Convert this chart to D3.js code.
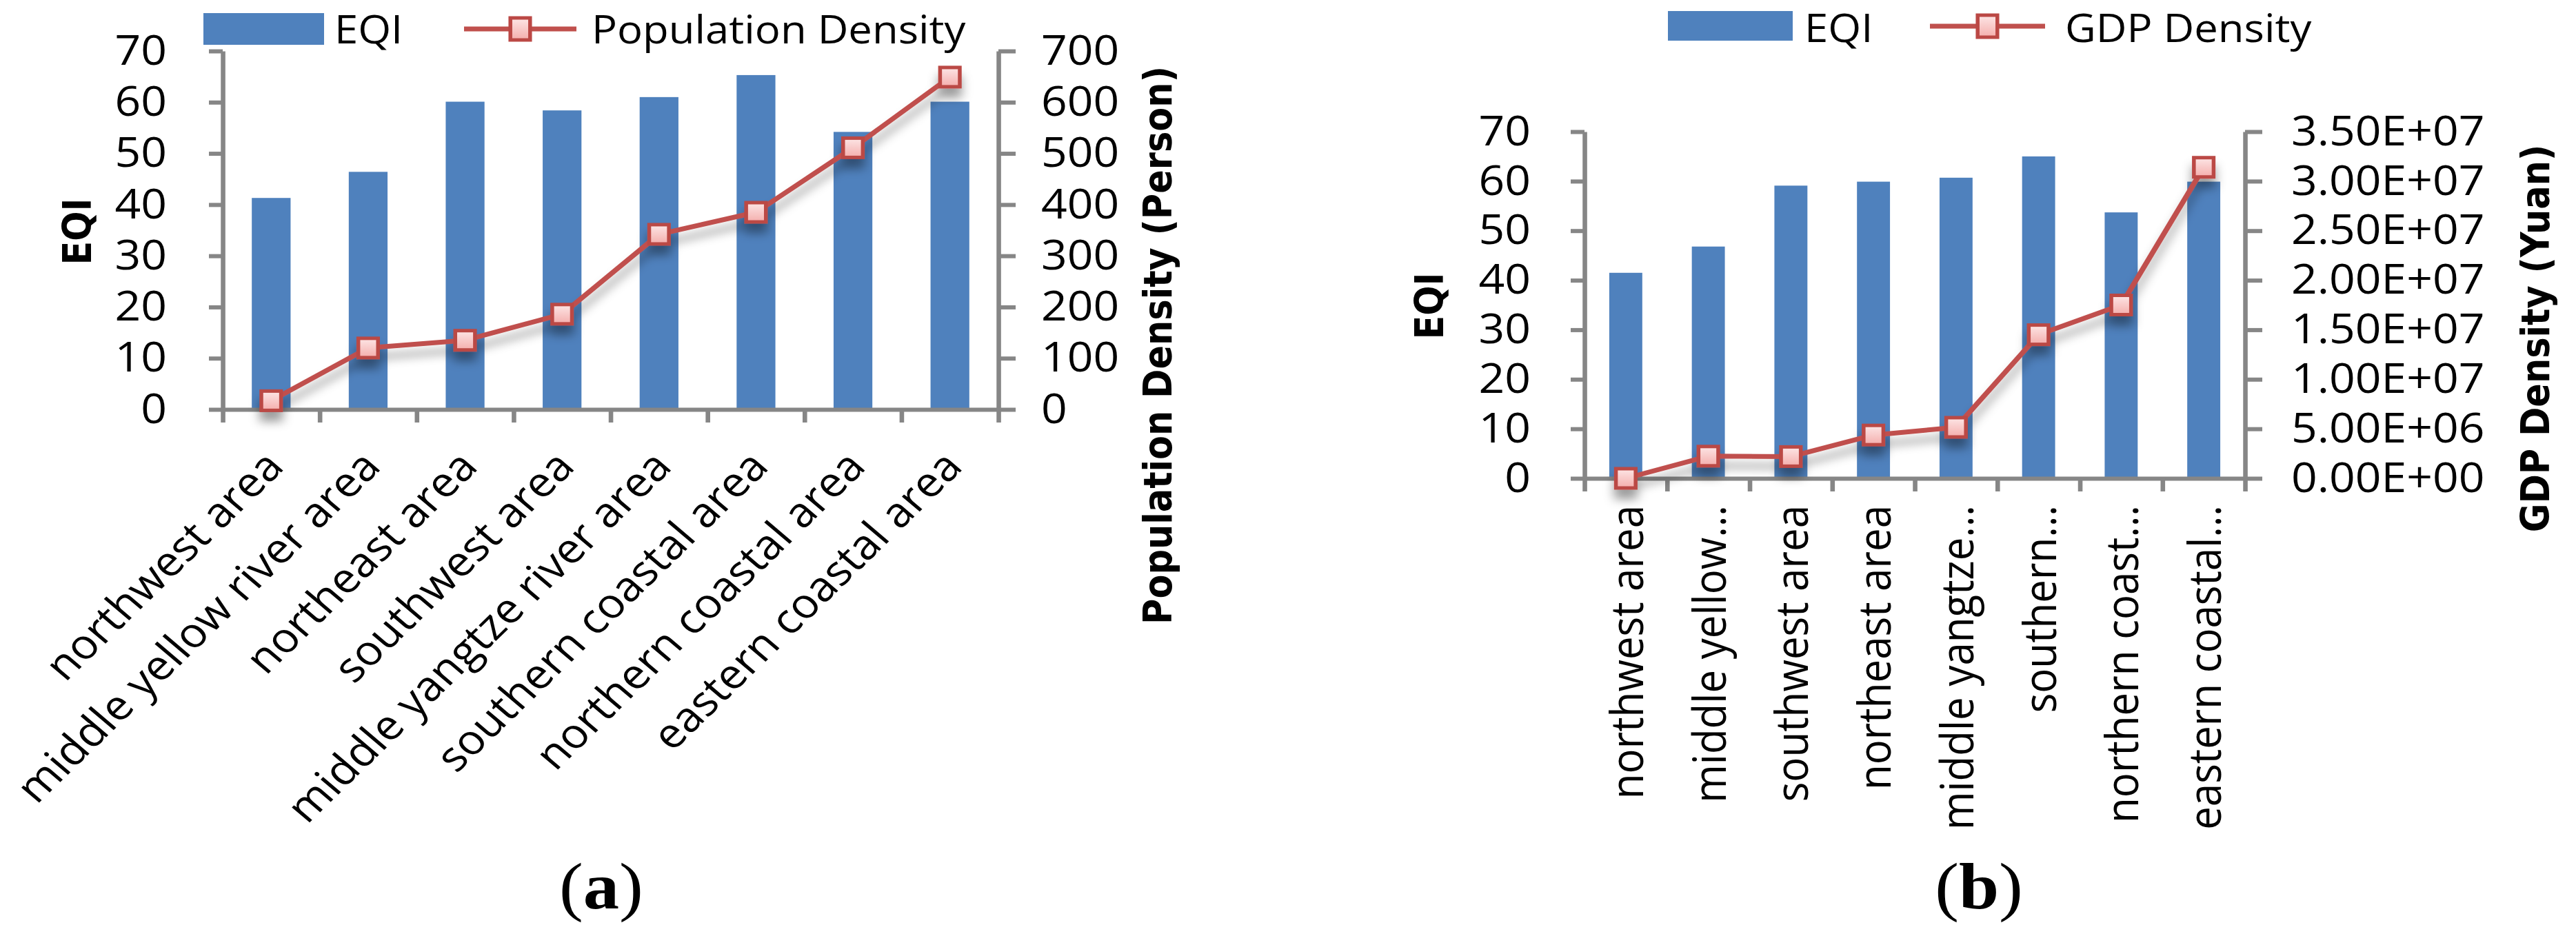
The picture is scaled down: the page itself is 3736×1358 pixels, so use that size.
<!DOCTYPE html>
<html><head><meta charset="utf-8">
<script src="https://cdn.jsdelivr.net/npm/d3@7"></script>
<style>
html,body{margin:0;padding:0;background:#fff;}
svg{display:block;background:#fff;}
</style></head>
<body>
<svg id="chart" width="3736" height="1358"></svg>
<script>
// ---------- data ----------
const categoriesA = ["northwest area","middle yellow river area","northeast area","southwest area",
  "middle yangtze river area","southern coastal area","northern coastal area","eastern coastal area"];
const eqiA = [41.3, 46.4, 60.1, 58.4, 61.0, 65.3, 54.2, 60.1];
const popDensity = [17, 120, 135, 186, 342, 385, 511, 649];

const categoriesB = ["northwest area","middle yellow…","southwest area","northeast area",
  "middle yangtze…","southern…","northern coast…","eastern coastal…"];
const eqiB = [41.5, 46.8, 59.1, 59.9, 60.7, 65.0, 53.7, 59.9];
const gdpDensity = [0, 2.24e6, 2.2e6, 4.37e6, 5.15e6, 1.45e7, 1.75e7, 3.14e7];

const eqiTicks = [0, 10, 20, 30, 40, 50, 60, 70];
const popTicks = [0, 100, 200, 300, 400, 500, 600, 700];
const gdpTicks = [0, 5e6, 1e7, 1.5e7, 2e7, 2.5e7, 3e7, 3.5e7];

// ---------- setup ----------
const S = 1.1; // horizontal stretch of the whole figure
const FONT = "'Open Sans','Liberation Sans',sans-serif";
const TFONT = "'DejaVu Sans','Verdana',sans-serif";
const BAR = "#4f81bd", LINE = "#c0504d", MK = "#bb4845", AX = "#868686";

const svg = d3.select("#chart");
const defs = svg.append("defs");
const grad = defs.append("linearGradient").attr("id","mk").attr("x1",0).attr("y1",0).attr("x2",0).attr("y2",1);
grad.append("stop").attr("offset","0%").attr("stop-color","#fde6e6");
grad.append("stop").attr("offset","100%").attr("stop-color","#f4aeac");
const flt = defs.append("filter").attr("id","sh").attr("x","-20%").attr("y","-20%").attr("width","140%").attr("height","170%");
flt.append("feDropShadow").attr("dx",0).attr("dy",14).attr("stdDeviation",7)
  .attr("flood-color","#000").attr("flood-opacity",0.38);

const root = svg.append("g").attr("transform", `scale(${S},1)`);

function sci(v){
  const s = v.toExponential(2);
  const [m, e] = s.split("e");
  return m + "E" + e[0] + e.slice(1).padStart(2, "0");
}

function styleAxis(sel){
  sel.selectAll("path,line").attr("stroke", AX).attr("stroke-width", 6);
  sel.selectAll("text").attr("font-family", FONT).attr("font-size", 60).attr("fill", "#000");
}

function panel(o){
  const g = root.append("g");
  const L = o.left / S, R = o.right / S;
  const n = o.cats.length;
  const x = d3.scaleBand().domain(o.cats).range([L, R]).paddingInner(0.6).paddingOuter(0.3);
  const xb = d3.scaleLinear().domain([0, n]).range([L, R]);
  const yL = d3.scaleLinear().domain([0, 70]).range([o.y0, o.yTop]);
  const yR = d3.scaleLinear().domain([0, o.rMax]).range([o.y0, o.yTop]);
  const cx = i => x(o.cats[i]) + x.bandwidth() / 2;

  // bars
  g.append("g").selectAll("rect").data(o.bars).join("rect")
    .attr("x", (d, i) => x(o.cats[i]))
    .attr("y", d => yL(d))
    .attr("width", x.bandwidth())
    .attr("height", d => o.y0 - yL(d))
    .attr("fill", BAR);

  // axes
  g.append("g").attr("transform", `translate(${L},0)`)
    .call(d3.axisLeft(yL).tickValues(eqiTicks).tickSize(20 / S).tickSizeOuter(0).tickPadding(o.padL / S))
    .call(styleAxis);
  g.append("g").attr("transform", `translate(${R},0)`)
    .call(d3.axisRight(yR).tickValues(o.rTicks).tickFormat(o.rFmt).tickSize(25 / S).tickSizeOuter(0).tickPadding(o.padR / S))
    .call(styleAxis);
  g.append("g").attr("transform", `translate(0,${o.y0})`)
    .call(d3.axisBottom(xb).tickValues(d3.range(n + 1)).tickFormat("").tickSize(19).tickSizeOuter(0))
    .call(styleAxis);

  // category labels
  const lab = g.append("g").selectAll("text").data(o.cats).join("text")
    .attr("font-family", FONT).attr("font-size", 60).attr("fill", "#000")
    .attr("text-anchor", "end").text(d => d);
  if (o.rotated45) {
    lab.attr("transform", (d, i) => `translate(${cx(i) + 19},${o.y0 + 85}) rotate(-47)`);
  } else {
    lab.attr("transform", (d, i) => `translate(${cx(i)},${o.labTop}) rotate(-90)`).attr("dy", "0.38em");
  }

  // line + markers
  const lg = g.append("g").attr("filter", "url(#sh)");
  lg.append("path").datum(o.line)
    .attr("d", d3.line().x((d, i) => cx(i)).y(d => yR(d)))
    .attr("fill", "none").attr("stroke", LINE).attr("stroke-width", 7).attr("stroke-linejoin", "round");
  lg.selectAll("rect").data(o.line).join("rect")
    .attr("x", (d, i) => cx(i) - 13).attr("y", d => yR(d) - 14)
    .attr("width", 26).attr("height", 28)
    .attr("fill", "url(#mk)").attr("stroke", MK).attr("stroke-width", 5);

  // axis titles
  const title = (tx, ty, s) => g.append("text")
    .attr("transform", `translate(${tx / S},${ty}) rotate(-90)`)
    .attr("text-anchor", "middle").attr("dy", "0.36em")
    .attr("font-family", TFONT).attr("font-weight", 700).attr("font-size", 51).attr("fill", "#000")
    .text(s);
  title(o.tL[0], o.tL[1], "EQI");
  title(o.tR[0], o.tR[1], o.rTitle);

  // legend
  const lgd = g.append("g");
  lgd.append("rect").attr("x", o.leg.rect[0] / S).attr("y", o.leg.rect[1])
    .attr("width", o.leg.rect[2] / S).attr("height", o.leg.rect[3]).attr("fill", BAR);
  lgd.append("text").attr("x", o.leg.t1 / S).attr("y", o.leg.base)
    .attr("font-family", FONT).attr("font-size", 56).attr("fill", "#000").text("EQI");
  lgd.append("line").attr("x1", o.leg.line[0] / S).attr("x2", o.leg.line[1] / S)
    .attr("y1", o.leg.ly).attr("y2", o.leg.ly).attr("stroke", LINE).attr("stroke-width", 7);
  const mx = (o.leg.line[0] + o.leg.line[1]) / 2 / S;
  lgd.append("rect").attr("x", mx - 13).attr("y", o.leg.ly - 16).attr("width", 26).attr("height", 32)
    .attr("fill", "url(#mk)").attr("stroke", MK).attr("stroke-width", 5);
  lgd.append("text").attr("x", o.leg.t2 / S).attr("y", o.leg.base)
    .attr("font-family", FONT).attr("font-size", 56).attr("fill", "#000").text(o.rName);

  // caption
  const cap = g.append("text").attr("x", o.cap / S).attr("y", 1318).attr("text-anchor", "middle")
    .attr("font-family", "'Liberation Serif','Times New Roman',serif").attr("font-size", 95).attr("fill", "#000");
  cap.append("tspan").text("(");
  cap.append("tspan").attr("font-weight", 700).text(o.capText);
  cap.append("tspan").text(")");
}

panel({
  cats: categoriesA, bars: eqiA, line: popDensity,
  left: 323, right: 1448, y0: 594, yTop: 74,
  rMax: 700, rTicks: popTicks, rFmt: d3.format("d"),
  padL: 61, padR: 37, rotated45: true,
  tL: [112, 336], tR: [1679, 501], rTitle: "Population Density (Person)", rName: "Population Density",
  leg: { rect: [295, 19, 175, 46], t1: 485, base: 63, line: [673, 836], ly: 42, t2: 858 },
  cap: 872, capText: "a"
});

panel({
  cats: categoriesB, bars: eqiB, line: gdpDensity,
  left: 2298, right: 3256, y0: 694, yTop: 191,
  rMax: 3.5e7, rTicks: gdpTicks, rFmt: sci,
  padL: 58, padR: 42, rotated45: false, labTop: 733,
  tL: [2073, 444], tR: [3677, 491], rTitle: "GDP Density (Yuan)", rName: "GDP Density",
  leg: { rect: [2419, 16, 181, 43], t1: 2617, base: 61, line: [2799, 2966], ly: 38, t2: 2995 },
  cap: 2870, capText: "b"
});
</script>
</body></html>
